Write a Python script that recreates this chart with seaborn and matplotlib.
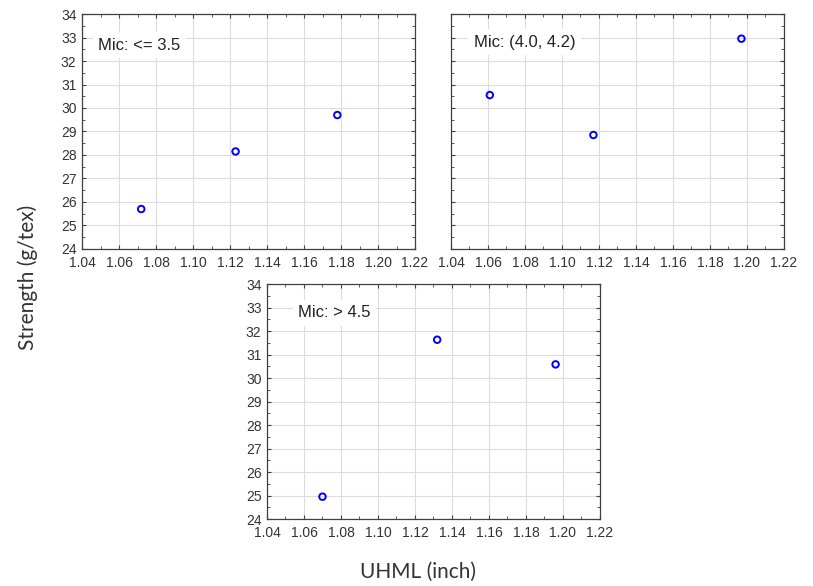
import matplotlib.pyplot as plt
import seaborn as sns
import pandas as pd
from matplotlib.ticker import MultipleLocator

# data
uhml_low = [1.072, 1.123, 1.178]
str_low = [25.7, 28.15, 29.7]
uhml_mid = [1.061, 1.117, 1.197]
str_mid = [30.55, 28.85, 32.95]
uhml_high = [1.070, 1.132, 1.196]
str_high = [24.95, 31.63, 30.58]
labels = ['Mic: <= 3.5', 'Mic: (4.0, 4.2)', 'Mic: > 4.5']
label_pos = [(1.0487, 32.66), (1.0524, 32.8), (1.0568, 32.77)]

sns.set_style('whitegrid')
plt.rcParams['font.family'] = ['Liberation Sans', 'DejaVu Sans']

fig = plt.figure(figsize=(8.13, 5.86), dpi=100)
ax1 = fig.add_axes([0.1009, 0.5751, 0.4096, 0.401])
ax2 = fig.add_axes([0.5547, 0.5751, 0.4096, 0.401])
ax3 = fig.add_axes([0.3284, 0.1143, 0.4096, 0.401])

panels = [(ax1, uhml_low, str_low, True),
          (ax2, uhml_mid, str_mid, False),
          (ax3, uhml_high, str_high, True)]

for i, (ax, xs, ys, show_y) in enumerate(panels):
    df = pd.DataFrame({'x': xs, 'y': ys})
    sns.scatterplot(data=df, x='x', y='y', ax=ax, marker='o', s=22,
                    facecolors='none', edgecolor='#0000ff', linewidth=1.4)
    ax.set_xlim(1.04, 1.22)
    ax.set_ylim(24, 34)
    ax.xaxis.set_major_locator(MultipleLocator(0.02))
    ax.xaxis.set_minor_locator(MultipleLocator(0.01))
    ax.yaxis.set_major_locator(MultipleLocator(1))
    ax.yaxis.set_minor_locator(MultipleLocator(0.5))
    ax.set_xticklabels(['%.2f' % v for v in ax.get_xticks()])
    ax.grid(True, which='major', color='#dcdcdc', linewidth=0.8)
    ax.set_axisbelow(True)
    for sp in ax.spines.values():
        sp.set_color('#404040')
        sp.set_linewidth(0.9)
    ax.tick_params(which='both', direction='in', top=True, right=True,
                   bottom=True, left=True, color='#404040', labelsize=10,
                   labelcolor='#333333')
    ax.tick_params(axis='x', which='both', pad=5)
    ax.tick_params(axis='y', which='both', pad=4)
    ax.tick_params(which='major', length=3)
    ax.tick_params(which='minor', length=2)
    if not show_y:
        ax.set_yticklabels([])
    ax.set_xlabel('')
    ax.set_ylabel('')
    lx, ly = label_pos[i]
    ax.text(lx, ly, labels[i], fontsize=12, color='#222222', va='center', ha='left',
            bbox=dict(facecolor='white', edgecolor='none', pad=4))

fig.text(0.034, 0.527, 'Strength (g/tex)', rotation=90, ha='center', va='center',
         fontsize=15, family=['Lato', 'DejaVu Sans'], color='#333333')
fig.text(0.514, 0.024, 'UHML (inch)', ha='center', va='center',
         fontsize=15, family=['Lato', 'DejaVu Sans'], color='#333333')

fig.savefig('out.png', dpi=100)
